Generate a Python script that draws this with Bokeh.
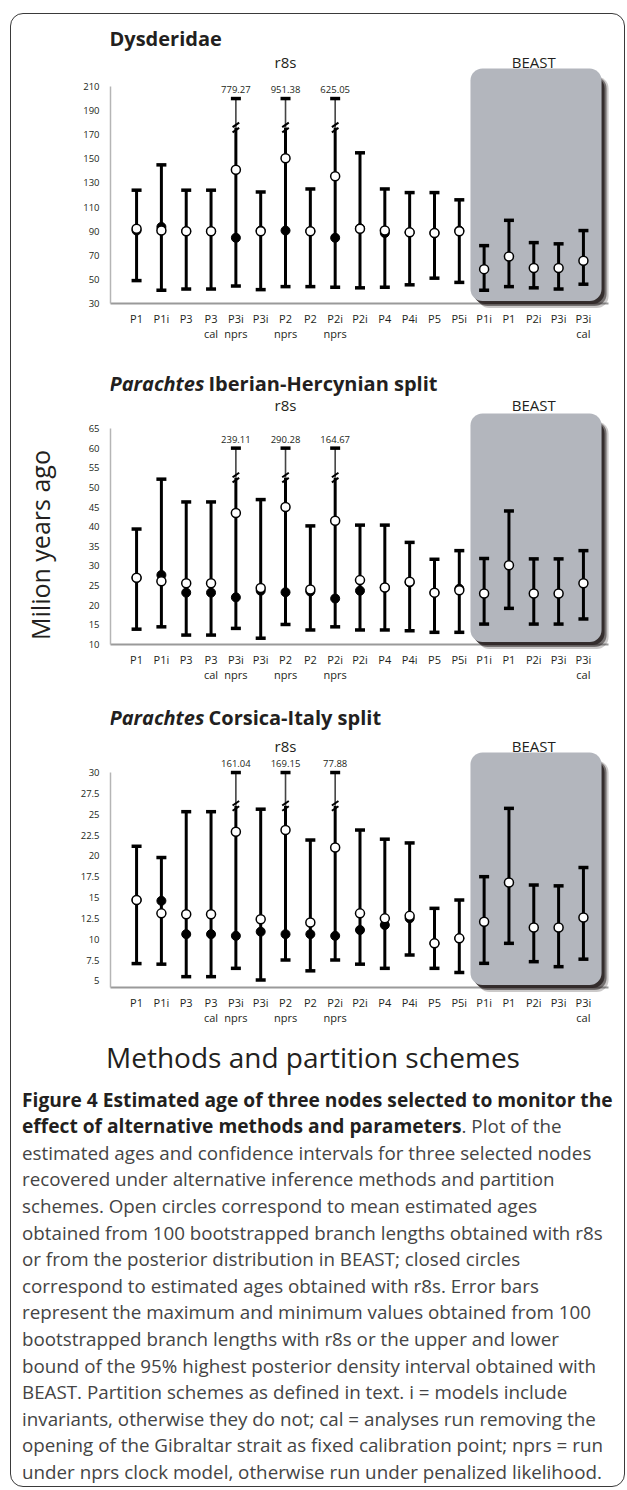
import math
from bokeh.plotting import figure
from bokeh.models import Range1d, FixedTicker, Label, ColumnDataSource, NumeralTickFormatter, Div
from bokeh.layouts import column, row
from bokeh.embed import file_html
from bokeh.resources import INLINE
from bokeh.core.properties import value

FONT = "Open Sans"
NAN = float("nan")

# ---------------- data ----------------
categories = ["P1", "P1i", "P3", "P3\ncal", "P3i\nnprs", "P3i", "P2\nnprs", "P2", "P2i\nnprs",
              "P2i", "P4", "P4i", "P5", "P5i", "P1i", "P1", "P2i", "P3i", "P3i\ncal"]
method = ["r8s"] * 14 + ["BEAST"] * 5

# Dysderidae
dys_low = [49, 41, 42, 42, 44.5, 41.5, 44, 44, 43.5, 43, 43.5, 45.5, 51, 47.5, 41, 44, 43, 42, 46]
dys_high = [124, 145, 124, 124, 779.27, 122.5, 951.38, 125, 625.05, 155, 125, 122, 122, 116,
            78, 99, 80.5, 79.5, 90.5]
dys_mean = [92, 90.5, 90, 90, 141, 90, 150.5, 90, 135.5, 92, 90.5, 89, 88.5, 90,
            58.5, 69, 59.5, 59.5, 65.5]
dys_r8s = [90.5, 93.5, 90, 90, 84.5, 90.5, 90.5, 90, 84.5, 92.5, 88.5, 89, 88.5, 90.5,
           NAN, NAN, NAN, NAN, NAN]
dys_ticks = [30, 50, 70, 90, 110, 130, 150, 170, 190, 210]

# Parachtes Iberian-Hercynian split
ibh_low = [13.9, 14.5, 12.4, 12.4, 14.1, 11.6, 15.1, 13.7, 14.5, 13.7, 13.7, 13.5, 13.1, 13.1,
           15.2, 19.2, 15.2, 15.2, 16.5]
ibh_high = [39.4, 52.1, 46.3, 46.3, 239.11, 46.9, 290.28, 40.2, 164.67, 40.4, 40.4, 36, 31.7, 33.9,
            31.9, 44, 31.8, 31.8, 33.9]
ibh_mean = [27, 26.1, 25.6, 25.6, 43.5, 24.4, 45, 24, 41.5, 26.4, 24.5, 26, 23.2, 23.8,
            23, 30.2, 23, 23, 25.6]
ibh_r8s = [27, 27.7, 23.2, 23.2, 22, 23.7, 23.3, 23.5, 21.7, 23.7, 24.5, 25.8, 23.2, 24.2,
           NAN, NAN, NAN, NAN, NAN]
ibh_ticks = [10, 15, 20, 25, 30, 35, 40, 45, 50, 55, 60, 65]

# Parachtes Corsica-Italy split
cor_low = [7.07, 7.0, 5.5, 5.5, 6.5, 5.1, 7.5, 6.2, 7.5, 7.0, 6.5, 8.1, 6.5, 6.0,
           7.1, 9.5, 7.3, 6.7, 7.6]
cor_high = [21.15, 19.8, 25.3, 25.3, 161.04, 25.6, 169.15, 21.9, 77.88, 23.1, 22.0, 21.55, 13.7, 14.7,
            17.5, 25.7, 16.5, 16.4, 18.6]
cor_mean = [14.7, 13.1, 13.0, 13.0, 22.9, 12.4, 23.1, 12.0, 21.0, 13.1, 12.5, 12.8, 9.5, 10.1,
            12.1, 16.8, 11.4, 11.4, 12.6]
cor_r8s = [14.7, 14.6, 10.6, 10.6, 10.4, 10.9, 10.6, 10.6, 10.4, 11.1, 11.7, 12.5, 9.5, 10.1,
           NAN, NAN, NAN, NAN, NAN]
cor_ticks = [5, 7.5, 10, 12.5, 15, 17.5, 20, 22.5, 25, 27.5, 30]

caption_bold = ["Figure 4 Estimated age of three nodes selected to monitor the",
                "effect of alternative methods and parameters"]
caption_rest = [
    ". Plot of the",
    "estimated ages and confidence intervals for three selected nodes",
    "recovered under alternative inference methods and partition",
    "schemes. Open circles correspond to mean estimated ages",
    "obtained from 100 bootstrapped branch lengths obtained with r8s",
    "or from the posterior distribution in BEAST; closed circles",
    "correspond to estimated ages obtained with r8s. Error bars",
    "represent the maximum and minimum values obtained from 100",
    "bootstrapped branch lengths with r8s or the upper and lower",
    "bound of the 95% highest posterior density interval obtained with",
    "BEAST. Partition schemes as defined in text. i = models include",
    "invariants, otherwise they do not; cal = analyses run removing the",
    "opening of the Gibraltar strait as fixed calibration point; nprs = run",
    "under nprs clock model, otherwise run under penalized likelihood.",
]

DARK = "#231f20"
OX, OY = 10, 13            # page position of the whole layout
LEFT_W = 60                # width of the column holding the rotated y title
PW = 555                   # panel figure width
FRAME_L_ABS = 110
XR = (-1.05, 19.01)
PXU = 498 / (XR[1] - XR[0])


def panel(low, high, mean, r8s, ticks, y_start, ppu, cap_at, break_at, top_abs, height, b_bottom,
          box_top_abs, titles, fmt="0"):
    frame_h = height - b_bottom
    y_end = y_start + frame_h / ppu
    p = figure(width=PW, height=height, x_range=Range1d(*XR), y_range=Range1d(y_start, y_end),
               output_backend="svg", toolbar_location=None,
               min_border_left=FRAME_L_ABS - OX - LEFT_W, min_border_right=17,
               min_border_top=0, min_border_bottom=b_bottom,
               outline_line_color=None, background_fill_color=None, border_fill_color=None)
    p.grid.visible = False

    def dx(ax):
        return XR[0] + (ax - FRAME_L_ABS) / PXU

    def dy(ay):
        return y_end - (ay - top_abs) / ppu

    xs = list(range(len(categories)))

    # axes
    p.xaxis.ticker = FixedTicker(ticks=xs)
    p.xaxis.major_label_overrides = {i: c for i, c in enumerate(categories)}
    p.xaxis.major_tick_line_color = None
    p.xaxis.minor_tick_line_color = None
    p.xaxis.axis_line_color = "#9a9a9a"
    p.xaxis.axis_line_width = 2
    p.xaxis.major_label_text_font = FONT
    p.xaxis.major_label_text_font_size = "11px"
    p.xaxis.major_label_text_color = DARK
    p.xaxis.major_label_text_line_height = 1.0
    p.xaxis.major_label_standoff = 1
    p.yaxis.ticker = FixedTicker(ticks=ticks)
    p.yaxis.formatter = NumeralTickFormatter(format=fmt)
    p.yaxis.bounds = (y_start, ticks[-1])
    p.yaxis.major_tick_line_color = None
    p.yaxis.minor_tick_line_color = None
    p.yaxis.axis_line_color = "#b5b5b5"
    p.yaxis.axis_line_width = 1.5
    p.yaxis.major_label_text_font = FONT
    p.yaxis.major_label_text_font_size = "9.5px"
    p.yaxis.major_label_text_color = DARK
    p.yaxis.major_label_standoff = 5

    # BEAST box (with shadow)
    b_idx = [i for i, m in enumerate(method) if m == "BEAST"]
    bl, br = b_idx[0] - 0.55, b_idx[-1] + 0.73
    bb = y_start + 2.5 / ppu
    bt = dy(box_top_abs)
    for sx, sy, alpha in [(7, 7, 0.25), (5, 5, 0.55), (3, 3, 0.9)]:
        p.quad(left=bl + sx / PXU, right=br + sx / PXU, top=bt - 8 / ppu, bottom=bb - sy / ppu,
               fill_color="#2e2626", fill_alpha=alpha, line_color=None, border_radius=12,
               level="annotation")
    p.quad(left=bl, right=br, top=bt, bottom=bb, fill_color="#b3b6bd", line_color=None,
           border_radius=12, level="annotation")

    # error bars
    solid_top = [break_at if h > cap_at else h for h in high]
    p.segment(x0=xs, y0=low, x1=xs, y1=solid_top, line_color="black", line_width=3, level="annotation")
    brk = [i for i, h in enumerate(high) if h > cap_at]
    p.segment(x0=brk, y0=[break_at] * len(brk), x1=brk, y1=[cap_at] * len(brk),
              line_color="#444444", line_width=1.6, level="annotation")
    caps_y = list(low) + [min(h, cap_at) for h in high]
    p.scatter(x=xs + xs, y=caps_y, marker="dash", size=10, line_width=3.5, line_color="black",
              level="annotation")
    d = 2.6 / ppu
    p.scatter(x=brk + brk, y=[break_at + d] * len(brk) + [break_at - d] * len(brk), marker="dash",
              size=8, angle=0.6, line_width=2, line_color="black", level="annotation")
    p.text(x=brk, y=[cap_at] * len(brk), text=[f"{high[i]:.2f}" for i in brk], y_offset=-9,
           text_font=value(FONT), text_font_size="9.5px", text_align="center",
           text_baseline="middle", text_color=DARK, level="annotation")

    # points
    src = ColumnDataSource(dict(x=xs, mean=mean, r8s=r8s))
    p.scatter("x", "r8s", source=src, size=9, fill_color="black", line_color="black", level="annotation")
    p.scatter("x", "mean", source=src, size=9, fill_color="white", line_color="black", line_width=1.5,
              level="annotation")

    # titles and method headings
    for (ax, ay, text, size, style, align) in titles:
        p.add_layout(Label(x=dx(ax), y=dy(ay), text=text, text_font=FONT, text_font_size=f"{size}px",
                           text_font_style=style, text_color=DARK, text_align=align,
                           text_baseline="middle"))
    return p


def heads(y_abs):
    return [(FRAME_L_ABS + (6.0 - XR[0]) * PXU, y_abs, "r8s", 15, "normal", "center"),
            (FRAME_L_ABS + (16.0 - XR[0]) * PXU, y_abs, "BEAST", 15, "normal", "center")]


p1 = panel(dys_low, dys_high, dys_mean, dys_r8s, dys_ticks, 30, 217 / 180, 200, 176,
           13, 347, 57, 68,
           [(109, 38, "Dysderidae", 20, "bold", "left")] + heads(61))
p2 = panel(ibh_low, ibh_high, ibh_mean, ibh_r8s, ibh_ticks, 10, 216 / 55, 60, 52.5,
           360, 332, 48, 413,
           [(109, 383, "Parachtes", 20, "bold italic", "left"),
            (208, 383, "Iberian-Hercynian split", 20, "bold", "left")] + heads(404))
p3 = panel(cor_low, cor_high, cor_mean, cor_r8s, cor_ticks, 4.2, 208.3 / 25, 30, 26,
           692, 338, 43, 752,
           [(109, 717, "Parachtes", 20, "bold italic", "left"),
            (208, 717, "Corsica-Italy split", 20, "bold", "left")] + heads(745),
           fmt="0.[0]")

panels_h = 347 + 332 + 338
ytitle = Div(width=LEFT_W, height=panels_h, margin=0, text=(
    f'<div style="position:relative;width:{LEFT_W}px;height:{panels_h}px;">'
    f'<div style="position:absolute;left:{40 - OX}px;top:{545 - OY}px;'
    'transform:translate(-50%,-50%) rotate(-90deg);white-space:nowrap;'
    f"font-family:'Open Sans';font-size:25px;line-height:1;color:{DARK};\">Milion years ago</div></div>"))

cap_html = (f'<b style="color:{DARK};font-size:19.2px">' + "<br>".join(caption_bold) + "</b>"
            + "<br>".join(caption_rest))
bottom = Div(width=615, height=457, margin=0, text=(
    "<div style=\"position:relative;width:615px;height:457px;font-family:'Open Sans';\">"
    f'<div style="position:absolute;left:0;width:{2 * (313 - OX)}px;top:{1058 - 1030}px;'
    f'transform:translateY(-50%);text-align:center;font-size:28px;line-height:1.2;color:{DARK};'
    'white-space:nowrap;">Methods and partition schemes</div>'
    f'<div style="position:absolute;left:{22 - OX}px;top:{1100 - 1030 - 13.3}px;font-size:18.8px;'
    f'line-height:26.6px;color:#444444;white-space:nowrap;">{cap_html}</div></div>'))

layout = column(row(ytitle, column(p1, p2, p3)), bottom, margin=(OY, 0, 0, OX),
                styles={"outline": "1.5px solid #3a3a3a", "outline-offset": "-1.5px",
                        "border-radius": "13px"})

with open("out.html", "w") as f:
    f.write(file_html(layout, INLINE))
